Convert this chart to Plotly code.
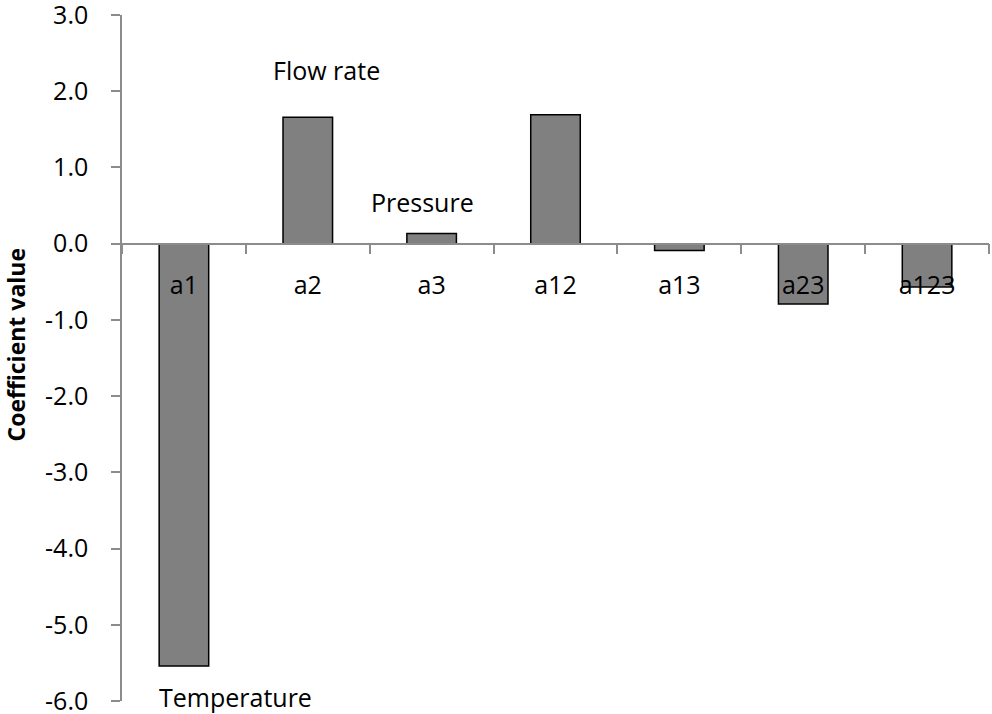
import plotly.graph_objects as go

categories = ["a1", "a2", "a3", "a12", "a13", "a23", "a123"]
coefficients = [-5.54, 1.66, 0.135, 1.69, -0.09, -0.79, -0.57]
y_ticks = [3, 2, 1, 0, -1, -2, -3, -4, -5, -6]
y_tick_labels = ["3.0", "2.0", "1.0", "0.0", "-1.0", "-2.0", "-3.0", "-4.0", "-5.0", "-6.0"]

# factor name labels attached to bars: (category, text)
factor_labels = [("a1", "Temperature"), ("a2", "Flow rate"), ("a3", "Pressure")]

FONT = "Open Sans"
AXIS_GRAY = "#8c8c8c"

fig = go.Figure()
fig.add_trace(go.Bar(
    x=categories,
    y=coefficients,
    marker=dict(color="#808080", line=dict(color="black", width=1.5)),
    showlegend=False,
))

# label placement (style only)
label_style = {
    "a1": dict(yanchor="top", xanchor="left", xshift=-27, yshift=-12),
    "a2": dict(yanchor="bottom", xanchor="center", xshift=19, yshift=28),
    "a3": dict(yanchor="bottom", xanchor="center", xshift=-9, yshift=12),
}
value_of = dict(zip(categories, coefficients))
annotations = []
for cat, txt in factor_labels:
    annotations.append(dict(
        x=cat, y=value_of[cat], xref="x", yref="y", text=txt, showarrow=False,
        font=dict(family=FONT, size=25, color="black"), **label_style[cat]))

annotations.append(dict(
    x=-0.122, y=0.52, xref="paper", yref="paper", text="<b>Coefficient value</b>",
    textangle=-90, showarrow=False, xanchor="center", yanchor="middle",
    font=dict(family=FONT, size=23, color="black")))

fig.update_layout(
    width=992, height=714,
    margin=dict(l=122, r=3, t=15, b=13),
    plot_bgcolor="white", paper_bgcolor="white",
    bargap=0.6,
    font=dict(family=FONT, size=25, color="black"),
    annotations=annotations,
    xaxis=dict(
        type="category",
        anchor="free", position=6/9,
        showline=True, linecolor=AXIS_GRAY, linewidth=1.5,
        ticks="outside", tickson="boundaries", ticklen=10, tickcolor=AXIS_GRAY, tickwidth=1.5,
        showgrid=False, zeroline=False,
        tickfont=dict(family=FONT, size=25, color="black"),
        ticklabelstandoff=20,
        ticklabeloverflow="allow",
        automargin=False,
    ),
    yaxis=dict(
        range=[-6, 3], domain=[0, 1],
        tickvals=y_ticks, ticktext=y_tick_labels,
        showline=True, linecolor=AXIS_GRAY, linewidth=1.5,
        ticks="outside", ticklen=9, tickcolor=AXIS_GRAY, tickwidth=1.5,
        showgrid=False, zeroline=False,
        tickfont=dict(family=FONT, size=25, color="black"),
        ticklabelstandoff=18,
        ticklabeloverflow="allow",
        automargin=False,
    ),
)

fig.write_html(
    "out.html",
    config={"displayModeBar": False},
    post_script="document.body.style.margin='0px';document.body.style.overflow='hidden';",
)
